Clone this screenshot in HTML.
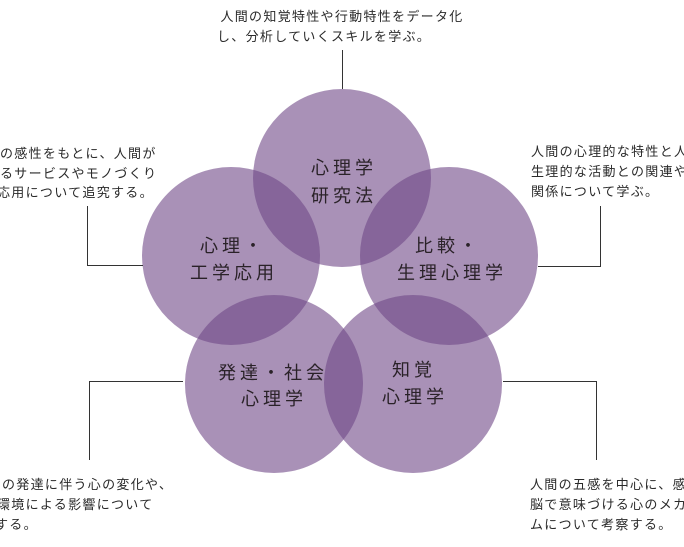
<!DOCTYPE html>
<html><head><meta charset="utf-8"><style>
html,body{margin:0;padding:0;background:#fff;width:684px;height:547px;overflow:hidden}
svg{display:block}
.s{font-family:"Liberation Sans","Noto Sans CJK JP",sans-serif;font-size:13px;fill:#2a2a2a;letter-spacing:1.3px}
.c{font-family:"Liberation Sans","Noto Sans CJK JP",sans-serif;font-size:18px;fill:#2a2228;letter-spacing:4px;text-anchor:middle}
</style></head><body>
<svg width="684" height="547" viewBox="0 0 684 547" xmlns="http://www.w3.org/2000/svg">
<g fill="rgb(112,72,135)" fill-opacity="0.6">
<circle cx="342" cy="178" r="89"/>
<circle cx="231" cy="256" r="89"/>
<circle cx="449" cy="256" r="89"/>
<circle cx="274" cy="384" r="89"/>
<circle cx="413" cy="384" r="89"/>
</g>
<g stroke="#333" stroke-width="1" fill="none">
<path d="M342.5 50V89"/>
<path d="M87.5 206V265.5H143"/>
<path d="M538 266.5H600.5V206"/>
<path d="M183 381.5H89.5V460"/>
<path d="M503 381.5H596.5V460"/>
</g>
<text class="s" x="342" y="21" text-anchor="middle">人間の知覚特性や行動特性をデータ化</text>
<text class="s" x="217" y="41">し、分析していくスキルを学ぶ。</text>
<text class="s" x="0" y="158">の感性をもとに、人間が</text>
<text class="s" x="0" y="178">るサービスやモノづくり</text>
<text class="s" x="-3" y="197">応用について追究する。</text>
<text class="s" x="531" y="156">人間の心理的な特性と人</text>
<text class="s" x="531" y="176">生理的な活動との関連や</text>
<text class="s" x="531" y="196">関係について学ぶ。</text>
<text class="s" x="2" y="489">の発達に伴う心の変化や、</text>
<text class="s" x="-3" y="509">環境による影響について</text>
<text class="s" x="-5" y="529">する。</text>
<text class="s" x="530" y="489">人間の五感を中心に、感</text>
<text class="s" x="530" y="509">脳で意味づける心のメカ</text>
<text class="s" x="530" y="529">ムについて考察する。</text>
<text class="c" x="344" y="174">心理学</text>
<text class="c" x="344" y="202">研究法</text>
<text class="c" x="233" y="252">心理・</text>
<text class="c" x="234" y="279">工学応用</text>
<text class="c" x="448" y="252">比較・</text>
<text class="c" x="452" y="279">生理心理学</text>
<text class="c" x="273" y="379">発達・社会</text>
<text class="c" x="274" y="405">心理学</text>
<text class="c" x="414" y="376">知覚</text>
<text class="c" x="415" y="403">心理学</text>
</svg>
</body></html>
